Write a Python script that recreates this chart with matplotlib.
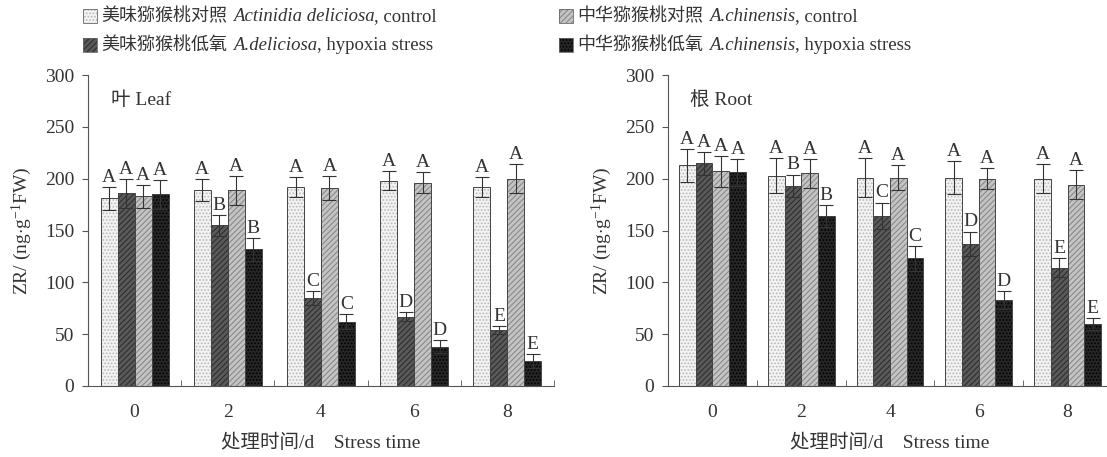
import matplotlib
matplotlib.use("Agg")
import matplotlib.pyplot as plt
import numpy as np
from matplotlib.offsetbox import HPacker, TextArea, DrawingArea, AnchoredOffsetbox
from matplotlib.patches import Rectangle

plt.rcParams['font.family'] = ['Liberation Serif', 'Noto Sans CJK SC']
plt.rcParams['mathtext.fontset'] = 'custom'
plt.rcParams['mathtext.rm'] = 'Liberation Serif'
plt.rcParams['mathtext.it'] = 'Liberation Serif:italic'
plt.rcParams['hatch.linewidth'] = 0.8

days = ['0', '2', '4', '6', '8']

series_names = ['美味猕猴桃对照', '美味猕猴桃低氧', '中华猕猴桃对照', '中华猕猴桃低氧']
series_italic = ['Actinidia deliciosa', 'A.deliciosa', 'A.chinensis', 'A.chinensis']
series_suffix = [', control', ', hypoxia stress', ', control', ', hypoxia stress']

# Leaf ZR (ng/g FW)
leaf_del_ctrl = [181, 189, 192, 198, 192]
leaf_del_hyp = [186, 155, 85, 67, 54]
leaf_chi_ctrl = [183, 189, 191, 196, 200]
leaf_chi_hyp = [185, 132, 62, 38, 24]
leaf_del_ctrl_err = [11, 11, 10, 9, 10]
leaf_del_hyp_err = [14, 10, 7, 4, 4]
leaf_chi_ctrl_err = [11, 14, 12, 10, 14]
leaf_chi_hyp_err = [14, 11, 7, 6, 7]
leaf_letters = [['A', 'A', 'A', 'A'], ['A', 'B', 'A', 'B'], ['A', 'C', 'A', 'C'],
                ['A', 'D', 'A', 'D'], ['A', 'E', 'A', 'E']]

# Root ZR (ng/g FW)
root_del_ctrl = [213, 203, 201, 201, 200]
root_del_hyp = [215, 193, 164, 137, 114]
root_chi_ctrl = [207, 205, 201, 200, 194]
root_chi_hyp = [206, 164, 123, 83, 60]
root_del_ctrl_err = [16, 17, 19, 16, 14]
root_del_hyp_err = [11, 11, 13, 12, 9]
root_chi_ctrl_err = [15, 14, 12, 10, 14]
root_chi_hyp_err = [13, 11, 12, 9, 6]
root_letters = [['A', 'A', 'A', 'A'], ['A', 'B', 'A', 'B'], ['A', 'C', 'A', 'C'],
                ['A', 'D', 'A', 'D'], ['A', 'E', 'A', 'E']]

face = ['#f3f3f3', '#5a5a5a', '#c4c4c4', '#262626']
hatch_col = ['#b8b8b8', '#2e2e2e', '#8a8a8a', '#000000']
hatches = ['.....', '//////', '//////', '.....']
TXT = '#333333'

W, H = 1107, 457
fig = plt.figure(figsize=(W / 100, H / 100), dpi=100)

def ax_rect(x0, x1, ytop, ybot):
    return [x0 / W, 1 - ybot / H, (x1 - x0) / W, (ybot - ytop) / H]

def draw_panel(ax, vals, errs, letters, title, bw):
    x = np.arange(len(days))
    for i in range(4):
        pos = x + (i - 1.5) * bw
        ax.bar(pos, vals[i], bw, color=face[i], hatch=hatches[i],
               edgecolor=hatch_col[i], linewidth=0, zorder=2)
        ax.bar(pos, vals[i], bw, fill=False, edgecolor='#444444', linewidth=0.7, zorder=3)
        ax.errorbar(pos, vals[i], yerr=errs[i], fmt='none', ecolor='#333333',
                    elinewidth=0.8, capsize=5, capthick=0.8, zorder=4)
        for g in range(len(days)):
            ax.text(pos[g], vals[i][g] + errs[i][g] + 1, letters[g][i],
                    ha='center', va='bottom', fontsize=14, color=TXT, zorder=5)
    ax.set_xlim(-0.5, len(days) - 0.5)
    ax.set_ylim(0, 300)
    ax.set_yticks(range(0, 301, 50))
    ax.set_xticks(x)
    ax.set_xticklabels(days)
    ax.set_xticks(np.arange(0.5, len(days), 1.0), minor=True)
    ax.tick_params(axis='x', which='major', length=0, pad=13, labelsize=14, labelcolor=TXT)
    ax.tick_params(axis='x', which='minor', direction='in', length=4, color='#555555')
    ax.tick_params(axis='y', direction='out', length=4, color='#555555', labelsize=14,
                   labelcolor=TXT, pad=6)
    for s in ['top', 'right']:
        ax.spines[s].set_visible(False)
    for s in ['left', 'bottom']:
        ax.spines[s].set_color('#555555')
        ax.spines[s].set_linewidth(0.8)
    ax.set_ylabel(r'ZR/ (ng$\cdot$g$^{\mathrm{-1}}$FW)', fontsize=14, color=TXT, labelpad=8)
    ax.set_xlabel('处理时间/d    Stress time', fontsize=14, color=TXT, labelpad=9)
    ax.text(0.05, 0.92, title, transform=ax.transAxes, fontsize=14, color=TXT,
            ha='left', va='center')

ax1 = fig.add_axes(ax_rect(88, 554, 75, 386))
draw_panel(ax1,
           [leaf_del_ctrl, leaf_del_hyp, leaf_chi_ctrl, leaf_chi_hyp],
           [leaf_del_ctrl_err, leaf_del_hyp_err, leaf_chi_ctrl_err, leaf_chi_hyp_err],
           leaf_letters, '叶 Leaf', 0.182)

ax2 = fig.add_axes(ax_rect(668, 1112, 75, 386))
draw_panel(ax2,
           [root_del_ctrl, root_del_hyp, root_chi_ctrl, root_chi_hyp],
           [root_del_ctrl_err, root_del_hyp_err, root_chi_ctrl_err, root_chi_hyp_err],
           root_letters, '根 Root', 0.188)

# Legend built from text pieces
def legend_entry(i, x, y):
    da = DrawingArea(10, 10, 0, 0)
    da.add_artist(Rectangle((0, 0), 10, 10, facecolor=face[i], hatch=hatches[i],
                            edgecolor=hatch_col[i], linewidth=0))
    da.add_artist(Rectangle((0, 0), 10, 10, fill=False, edgecolor='#666666', linewidth=0.6))
    t1 = TextArea(series_names[i], textprops=dict(fontsize=13, color=TXT,
                                                  family=['Noto Sans CJK SC']))
    t2 = TextArea(series_italic[i], textprops=dict(fontsize=13.5, color=TXT, style='italic',
                                                   family=['Liberation Serif']))
    t3 = TextArea(series_suffix[i], textprops=dict(fontsize=13.5, color=TXT,
                                                   family=['Liberation Serif']))
    words = HPacker(children=[t2, t3], align='baseline', pad=0, sep=0)
    text = HPacker(children=[t1, words], align='baseline', pad=0, sep=4)
    box = HPacker(children=[da, text], align='center', pad=0, sep=3)
    ab = AnchoredOffsetbox(loc='center left', child=box, pad=0, frameon=False,
                           bbox_to_anchor=(x / W, 1 - y / H),
                           bbox_transform=fig.transFigure, borderpad=0)
    fig.add_artist(ab)

legend_entry(0, 83, 16)
legend_entry(1, 83, 45)
legend_entry(2, 559, 16)
legend_entry(3, 559, 45)

fig.savefig('out.png', dpi=100, facecolor='white')
